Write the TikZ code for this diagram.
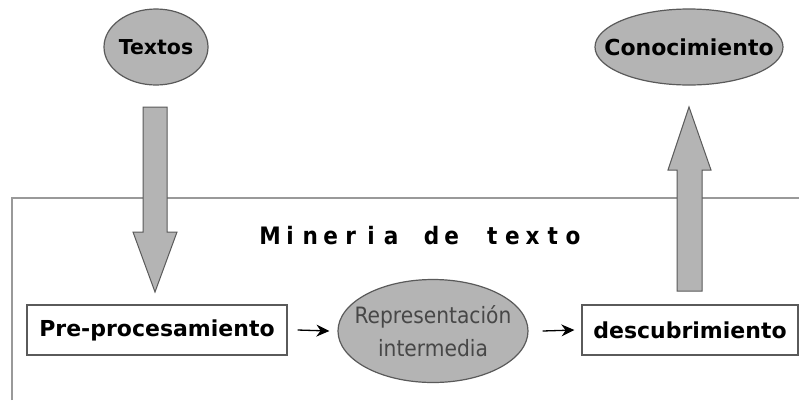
\documentclass[tikz,border=0pt]{standalone}
\usepackage{fontspec}
\setmainfont{DejaVu Sans}
\newfontfamily\condfont{DejaVu Sans Condensed}
\usetikzlibrary{shapes.geometric,arrows.meta}
\definecolor{shade}{HTML}{B4B4B4}
\definecolor{edge}{HTML}{5A5A5A}
\newcommand\spch[1]{\makebox[20.2pt]{#1}}
\begin{document}
\begin{tikzpicture}[x=1pt,y=-1pt,
  oval/.style={ellipse,draw=edge,line width=1.2pt,fill=shade,inner sep=0pt},
  ovaltext/.style={inner sep=0pt,align=center},
  stepbox/.style={rectangle,draw=edge,line width=1.2pt,fill=white,inner sep=0pt},
  blockarrow/.style={draw=edge,line width=1pt,fill=shade},
  link/.style={line width=1.3pt,-{Stealth[length=13pt,width=12pt]}}]
\useasboundingbox (0,0) rectangle (799,400);
\fill[white] (0,0) rectangle (799,400);
% frame
\draw[draw=gray!80,line width=1.5pt] (12,400) -- (12,198) -- (799,198);
% top ellipses
\node[oval,minimum width=104pt,minimum height=76pt] (tex) at (156,47) {};
\node[ovaltext] at (tex.center) {\bfseries\fontsize{20.5}{24}\selectfont Textos};
\node[oval,minimum width=188pt,minimum height=76pt] (con) at (689,47) {};
\node[ovaltext] at (con.center) {\bfseries\fontsize{22}{26}\selectfont Conocimiento};
% title
\node[inner sep=0pt] (tit) at (421.5,236) {\condfont\bfseries\fontsize{24}{28}\selectfont\spch{M}\spch{i}\spch{n}\spch{e}\spch{r}\spch{i}\spch{a}\spch{ }\spch{d}\spch{e}\spch{ }\spch{t}\spch{e}\spch{x}\spch{t}\spch{o}};
% process row
\node[stepbox,minimum width=260pt,minimum height=50pt] (pre) at (157,330) {\bfseries\fontsize{22}{26}\selectfont Pre-procesamiento};
\node[oval,minimum width=190pt,minimum height=103pt] (rep) at (433,331) {};
\node[ovaltext,font={\condfont\fontsize{22.5}{33}\selectfont},text=black!72] at (rep.center) {Representación\\intermedia};
\node[stepbox,minimum width=216pt,minimum height=50pt] (des) at (690,330) {\bfseries\fontsize{22}{26}\selectfont descubrimiento};
% small arrows
\draw[link] ([xshift=10pt]pre.east) -- ([xshift=-8pt]rep.west);
\draw[link] ([xshift=14pt]rep.east) -- ([xshift=-7pt]des.west);
% block arrows
\draw[blockarrow] (143,107) -- (167,107) -- (167,232) -- (177,232) -- (155,292) -- (133,232) -- (143,232) -- cycle;
\draw[blockarrow] (677,291) -- (677,170) -- (668,170) -- (689,107) -- (711,170) -- (702,170) -- (702,291) -- cycle;
\end{tikzpicture}
\end{document}
